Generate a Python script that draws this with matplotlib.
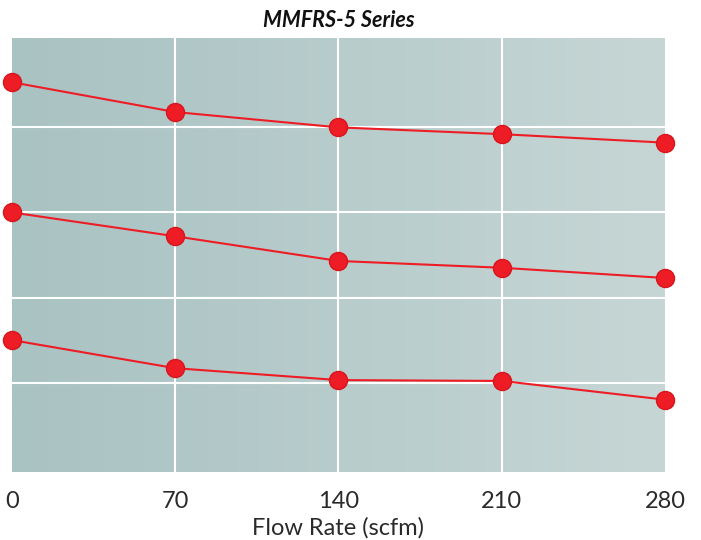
import numpy as np
import matplotlib
matplotlib.use('Agg')
import matplotlib.pyplot as plt
from matplotlib.colors import LinearSegmentedColormap

# data
flow = [0, 70, 140, 210, 280]
series_top = [4.53, 4.18, 4.00, 3.92, 3.82]
series_mid = [3.00, 2.72, 2.43, 2.35, 2.23]
series_low = [1.50, 1.17, 1.03, 1.02, 0.80]
xticks = [0, 70, 140, 210, 280]

plt.rcParams['font.family'] = ['Lato', 'DejaVu Sans']

fig = plt.figure(figsize=(7.01, 5.40), dpi=100)
ax = fig.add_axes([12 / 701, 68 / 540, 653 / 701, 434 / 540])

# gradient background
cmap = LinearSegmentedColormap.from_list('bg', ['#a9c2c2', '#c6d6d5'])
grad = np.linspace(0, 1, 256).reshape(1, -1)
ax.imshow(grad, cmap=cmap, aspect='auto', extent=[0, 280, -0.05, 5.05], zorder=0)

ax.set_xlim(0, 280)
ax.set_ylim(-0.05, 5.05)

for x in [70, 140, 210]:
    ax.axvline(x, color='white', lw=1.5, zorder=1)
for y in [1, 2, 3, 4]:
    ax.axhline(y, color='white', lw=1.5, zorder=1)

for s in [series_top, series_mid, series_low]:
    ax.plot(flow, s, color='#ee1c25', lw=1.5, marker='o', markersize=13,
            markerfacecolor='#ee1c25', markeredgecolor='#d8141c', markeredgewidth=1,
            clip_on=False, zorder=3)

for sp in ax.spines.values():
    sp.set_visible(False)

ax.set_xticks(xticks)
ax.set_xticklabels([str(t) for t in xticks], fontsize=17, color='#2a2a2a')
ax.tick_params(axis='x', length=0, pad=14)
ax.set_yticks([])
ax.set_xlabel('Flow Rate (scfm)', fontsize=17, color='#2a2a2a', labelpad=3)
ax.set_title('MMFRS-5 Series', fontsize=15.5, fontweight='bold', fontstyle='italic',
             color='#111111', pad=8)

fig.savefig('out.png', dpi=100)
